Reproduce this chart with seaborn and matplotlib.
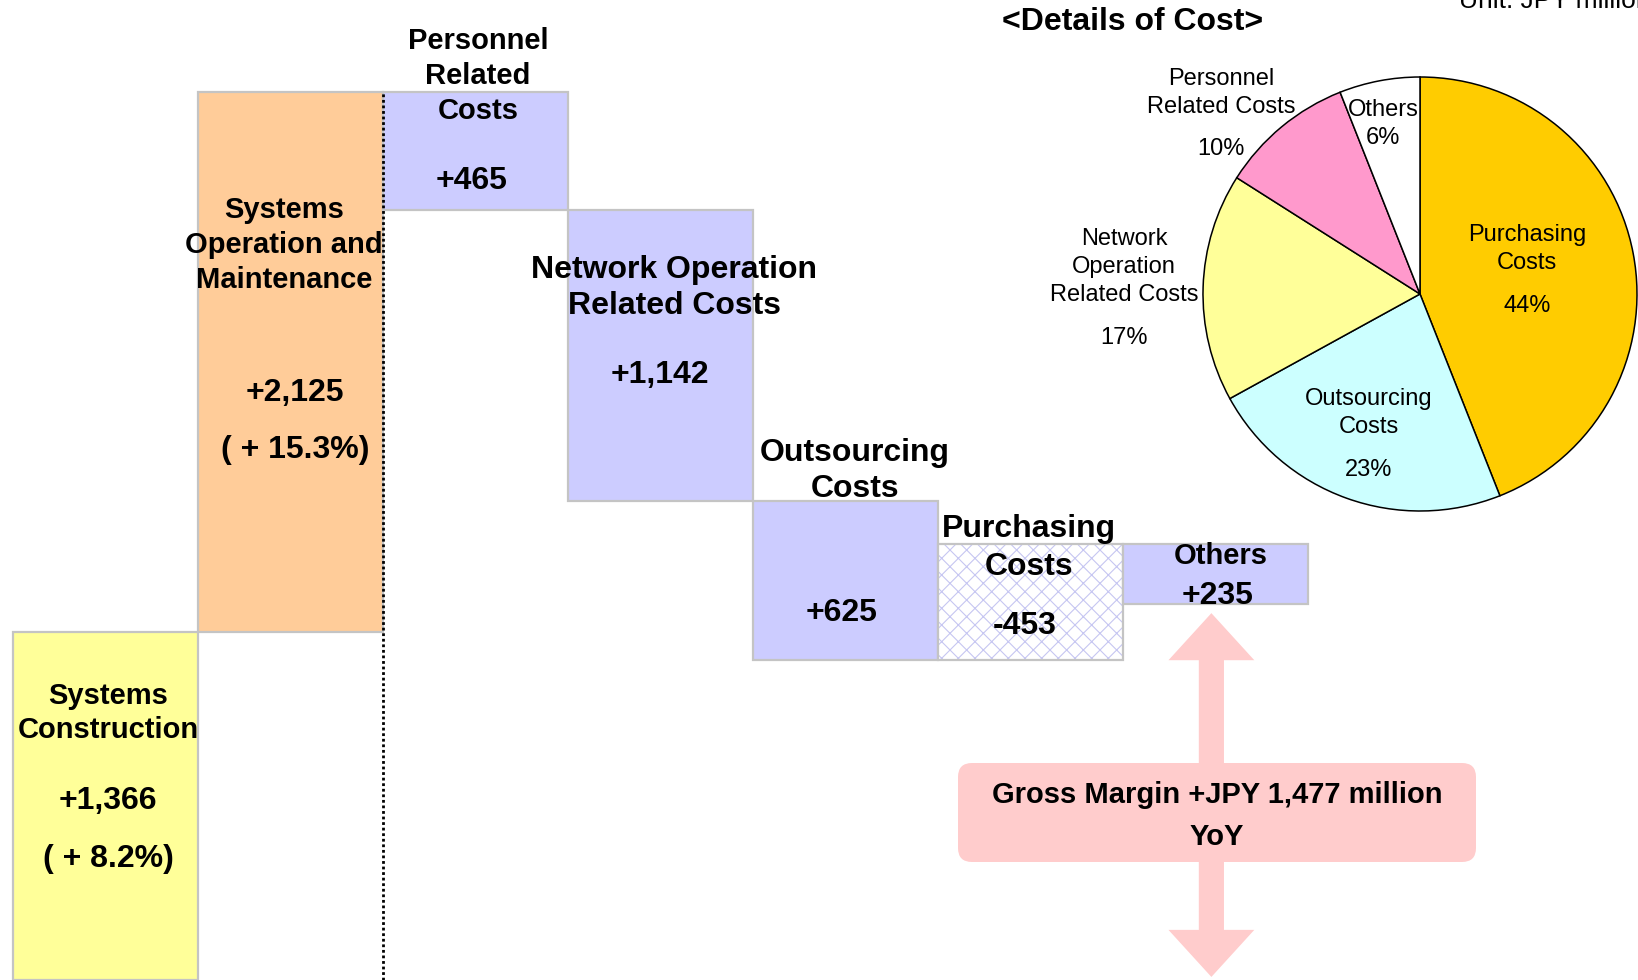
import numpy as np
import pandas as pd
import matplotlib
matplotlib.use("Agg")
import matplotlib.pyplot as plt
import seaborn as sns
from matplotlib.patches import FancyBboxPatch, Polygon
from matplotlib.colors import to_rgba

# ---------------- data ----------------
categories = [
    "Systems Construction",
    "Systems Operation and Maintenance",
    "Personnel Related Costs",
    "Network Operation Related Costs",
    "Outsourcing Costs",
    "Purchasing Costs",
    "Others",
]
# effect on gross margin (JPY million): revenue increases, cost increases negative
margin_effect = [1366, 2125, -465, -1142, -625, 453, -235]
value_labels = ["+1,366", "+2,125", "+465", "+1,142", "+625", "-453", "+235"]
growth_labels = ["( + 8.2%)", "( + 15.3%)"]
gross_margin_change = 1477

pie_labels = ["Purchasing\nCosts", "Outsourcing\nCosts",
              "Network\nOperation\nRelated Costs", "Personnel\nRelated Costs", "Others"]
pie_shares = [44, 23, 17, 10, 6]

# ---------------- style ----------------
sns.set_theme(style="white")
plt.rcParams["font.family"] = ["Liberation Sans", "DejaVu Sans"]
plt.rcParams["hatch.linewidth"] = 0.8

W, H = 1638, 980
fig = plt.figure(figsize=(W / 100, H / 100), dpi=100)
fig.patch.set_facecolor("white")

# ---------------- waterfall ----------------
ax = fig.add_axes([0, 0, 1, 1])
effect = np.array(margin_effect, dtype=float)
ends = np.cumsum(effect)
starts = ends - effect
bottoms = np.minimum(starts, ends)
heights = np.abs(effect)
df = pd.DataFrame({"category": categories, "height": heights})

sns.barplot(data=df, x="category", y="height", order=categories,
            bottom=bottoms, errorbar=None, width=1.0, ax=ax,
            color="#CCCCFF", saturation=1)

bar_colors = ["#FFFF99", "#FFCC99", "#CCCCFF", "#CCCCFF", "#CCCCFF", "#FFFFFF", "#CCCCFF"]
for p, c in zip(ax.patches, bar_colors):
    p.set_facecolor(c)
    p.set_edgecolor("#C4C4C4")
    p.set_linewidth(1.6)
hp = ax.patches[5]
hp.set_hatch("xx")
hp._hatch_color = to_rgba("#C6C6F2")

ax.set_xlim(-0.568, 8.286)
ax.set_ylim(0, 3852)
ax.axis("off")

# dotted separator between revenue and costs
ax.plot([1.5, 1.5], [0, ends[1]], color="black", ls=(0, (1, 1)), lw=2.0, zorder=5)

# gross margin double arrow
cx = 5.98
hs, hw, hl = 0.068, 0.232, 185
top = gross_margin_change - 35
bot = 12
arrow = Polygon([
    (cx, top), (cx + hw, top - hl), (cx + hs, top - hl), (cx + hs, bot + hl),
    (cx + hw, bot + hl), (cx, bot), (cx - hw, bot + hl), (cx - hs, bot + hl),
    (cx - hs, top - hl), (cx - hw, top - hl)],
    closed=True, facecolor="#FFCCCC", edgecolor="none", zorder=4)
ax.add_patch(arrow)

# ---------------- pie ----------------
cpx, cpy, r = 1420, 294, 217
pax = fig.add_axes([(cpx - r) / W, 1 - (cpy + r) / H, 2 * r / W, 2 * r / H])
pie_colors = ["#FFCC00", "#CCFFFF", "#FFFF99", "#FF99CC", "#FFFFFF"]
wedges, _ = pax.pie(pie_shares, colors=pie_colors, startangle=90, counterclock=False,
                    wedgeprops=dict(edgecolor="black", linewidth=1.1))
for w in wedges:
    w.set_clip_on(False)
pax.set_xlim(-1, 1)
pax.set_ylim(-1, 1)
pax.set_aspect("equal")
pax.axis("off")

# ---------------- overlay (pixel coordinates) ----------------
ov = fig.add_axes([0, 0, 1, 1])
ov.set_xlim(0, W)
ov.set_ylim(H, 0)
ov.axis("off")
ov.patch.set_alpha(0)

box = FancyBboxPatch((958, 763), 518, 99, boxstyle="round,pad=0,rounding_size=14",
                     facecolor="#FFCCCC", edgecolor="none")
ov.add_patch(box)

def T(x, y, s, size, bold=True, **kw):
    ov.text(x, y, s, fontsize=size, fontweight="bold" if bold else "normal",
            ha=kw.pop("ha", "center"), va=kw.pop("va", "center"),
            linespacing=kw.pop("linespacing", 1.28), color="black", **kw)

label_lines = ["Systems\nConstruction", "Systems\nOperation and\nMaintenance",
               "Personnel\nRelated\nCosts", "Network Operation\nRelated Costs",
               "Outsourcing\nCosts", "Purchasing\nCosts", "Others"]
label_pos = [(108, 713, 21, 1.27), (284, 245, 21, 1.30), (478, 76, 21, 1.30),
             (674, 288, 23, 1.25), (855, 471, 23, 1.22), (1029, 548, 23, 1.32),
             (1221, 556, 21, 1.2)]
value_pos = [(108, 801), (295, 393), (472, 181), (660, 375), (842, 613), (1025, 626), (1218, 596)]
growth_pos = [(108, 859), (295, 450)]

for s, (x, y, fs, ls) in zip(label_lines, label_pos):
    T(x, y, s, fs, linespacing=ls)
for s, (x, y) in zip(value_labels, value_pos):
    T(x, y, s, 23)
for s, (x, y) in zip(growth_labels, growth_pos):
    T(x, y, s, 23)

T(1217, 795, f"Gross Margin +JPY {gross_margin_change:,} million", 21)
T(1217, 837, "YoY", 21)

# pie texts
pie_label_pos = [(1527, 249), (1369, 413), (1124, 267), (1221, 93), (1383, 110)]
pct_pos = [(1527, 306), (1369, 470), (1124, 338), (1221, 149), (1383, 138)]
for s, (x, y) in zip(pie_labels, pie_label_pos):
    T(x, y, s, 17, bold=False, linespacing=1.36)
for v, (x, y) in zip(pie_shares, pct_pos):
    T(x, y, f"{v}%", 17, bold=False)

T(1133, 22, "<Details of Cost>", 23)
ov.text(1459, 8, "Unit: JPY million", fontsize=19, ha="left", va="baseline", color="black")

fig.savefig("out.png", dpi=100, facecolor="white")
